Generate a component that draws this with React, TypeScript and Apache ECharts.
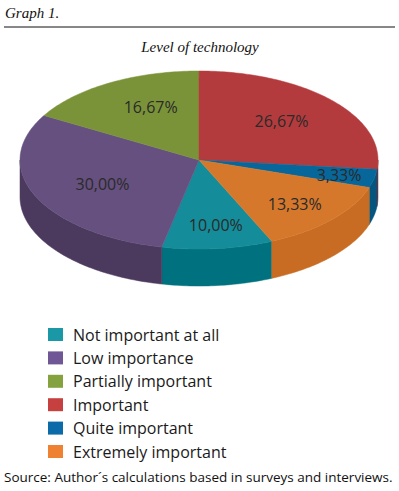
import React, { useEffect, useRef } from "react";
import * as echarts from "echarts";

const categories = [
  "Not important at all",
  "Low importance",
  "Partially important",
  "Important",
  "Quite important",
  "Extremely important",
];
const values = [10.0, 30.0, 16.67, 26.67, 3.33, 13.33];
const topColors = ["#148C99", "#65507F", "#7A9339", "#B43B3D", "#07679B", "#D6782C"];
const sideColors = ["#00727F", "#4B3A5E", "#5E7428", "#8E2A2C", "#05557F", "#C76C22"];
const legendColors = ["#1B98A6", "#6F5795", "#84A23E", "#C6403F", "#0B6BA8", "#EE8232"];
const labelKx = [0.9, 0.59, 0.54, 0.62, 0.8, 0.72];
const labelKy = [0.73, 0.66, 0.69, 0.655, 0.81, 0.74];

const firstSliceAngle = 156;
const CX = 199;
const CY = 160;
const RX = 179;
const RY = 89;
const DEPTH = 37;

const total = values.reduce((a, b) => a + b, 0);
const cumulative: number[] = [];
values.reduce((acc, v, i) => {
  cumulative[i] = acc;
  return acc + v;
}, 0);

function pt(deg: number, dy = 0): number[] {
  const r = (deg * Math.PI) / 180;
  return [CX + RX * Math.sin(r), CY - RY * Math.cos(r) + dy];
}

function arcPoints(a: number, b: number, dy = 0): number[][] {
  const pts: number[][] = [];
  const n = Math.max(2, Math.ceil(Math.abs(b - a)));
  for (let i = 0; i <= n; i++) pts.push(pt(a + ((b - a) * i) / n, dy));
  return pts;
}

function renderItem(params: any, api: any) {
  const idx = params.dataIndex;
  const v = api.value(0);
  const start = firstSliceAngle + (cumulative[idx] / total) * 360;
  const end = start + (v / total) * 360;
  const children: any[] = [];
  [
    [90, 270],
    [450, 630],
  ].forEach(([f0, f1]) => {
    const a = Math.max(start, f0);
    const b = Math.min(end, f1);
    if (b > a) {
      const topArc = arcPoints(a, b);
      const botArc = arcPoints(b, a, DEPTH);
      children.push({
        type: "polygon",
        z2: 1,
        shape: { points: topArc.concat(botArc) },
        style: { fill: sideColors[idx], stroke: sideColors[idx], lineWidth: 0.5 },
      });
    }
  });
  const top = [[CX, CY]].concat(arcPoints(start, end));
  children.push({
    type: "polygon",
    z2: 2,
    shape: { points: top },
    style: { fill: topColors[idx], stroke: topColors[idx], lineWidth: 0.5 },
  });
  const mid = (((start + end) / 2) * Math.PI) / 180;
  children.push({
    type: "text",
    z2: 3,
    style: {
      x: CX + RX * labelKx[idx] * Math.sin(mid),
      y: CY - RY * labelKy[idx] * Math.cos(mid),
      text: v.toFixed(2).replace(".", ",") + "%",
      align: "center",
      verticalAlign: "middle",
      fill: "#2a2a2a",
      font: '16px "Open Sans"',
    },
  });
  return { type: "group", children };
}

const legendTop = 334.5;
const legendStep = 23.4;

export default function App() {
  const ref = useRef<HTMLDivElement>(null);
  useEffect(() => {
    document.body.style.margin = "0";
    const chart = echarts.init(ref.current!, undefined, { renderer: "svg" });
    const legendEls: any[] = [];
    categories.forEach((c, i) => {
      const y = legendTop + i * legendStep;
      legendEls.push({
        type: "rect",
        shape: { x: 48, y: y - 6.5, width: 15, height: 13 },
        style: { fill: legendColors[i] },
      });
      legendEls.push({
        type: "text",
        style: {
          x: 73,
          y,
          text: c,
          verticalAlign: "middle",
          fill: "#1a1a1a",
          font: '16px "Open Sans"',
        },
      });
    });
    chart.setOption({
      animation: false,
      graphic: [
        {
          type: "text",
          style: {
            x: 5,
            y: 13,
            text: "Graph 1.",
            verticalAlign: "middle",
            fill: "#111",
            font: 'italic 15px "Liberation Serif"',
          },
        },
        {
          type: "line",
          shape: { x1: 4, y1: 27, x2: 395, y2: 27 },
          style: { stroke: "#111", lineWidth: 1.2 },
        },
        {
          type: "text",
          style: {
            x: 200,
            y: 47,
            text: "Level of technology",
            align: "center",
            verticalAlign: "middle",
            fill: "#111",
            font: 'italic 15px "Liberation Serif"',
          },
        },
        ...legendEls,
        {
          type: "text",
          style: {
            x: 4,
            y: 477,
            text: "Source: Author´s calculations based in surveys and interviews.",
            verticalAlign: "middle",
            fill: "#111",
            font: '13.5px "Open Sans"',
          },
        },
      ],
      series: [
        {
          type: "custom",
          coordinateSystem: "none",
          renderItem,
          data: values.map((v, i) => ({ name: categories[i], value: [v] })),
        },
      ],
    });
    return () => chart.dispose();
  }, []);
  return <div ref={ref} style={{ width: 399, height: 491 }} />;
}
